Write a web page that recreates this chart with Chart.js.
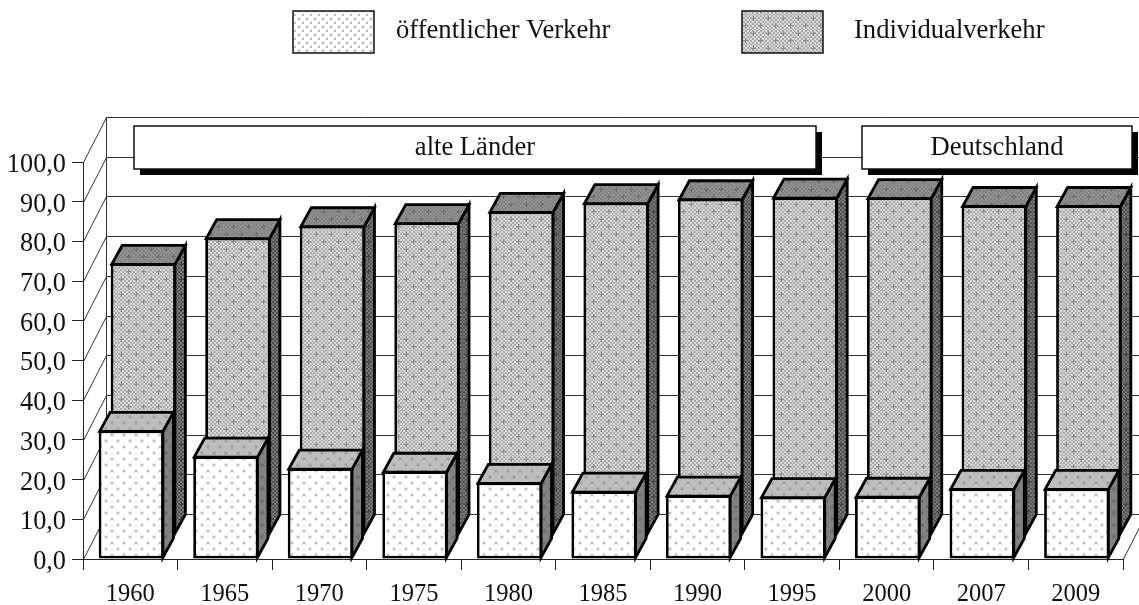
<!DOCTYPE html>
<html>
<head>
<meta charset="utf-8">
<title>Modal Split</title>
<script src="https://cdn.jsdelivr.net/npm/chart.js@4"></script>
<style>
    html, body { margin: 0; padding: 0; background: #fff; }
    canvas { display: block; }
</style>
</head>
<body>
<canvas id="chart" width="1139" height="605"></canvas>
<script>
// Daten
const years = ['1960', '1965', '1970', '1975', '1980', '1985', '1990', '1995', '2000', '2007', '2009'];
const publicTransport = [32.4, 25.9, 22.9, 22.1, 19.3, 17.1, 16.1, 15.7, 15.8, 17.8, 17.8];
const privateTransport = [68.4, 74.9, 77.9, 78.7, 81.5, 83.7, 84.7, 85.1, 85.0, 83.0, 83.0];
const yTickLabels = ['0,0', '10,0', '20,0', '30,0', '40,0', '50,0', '60,0', '70,0', '80,0', '90,0', '100,0'];
const legendLabels = ['öffentlicher Verkehr', 'Individualverkehr'];

const FONT = '"Liberation Serif", "Times New Roman", serif';

// Muster: Grundfläche + versetzte Punkte
function dotPattern(base, dot, halo, size) {
    const c = document.createElement('canvas');
    c.width = c.height = size;
    const g = c.getContext('2d');
    g.fillStyle = base;
    g.fillRect(0, 0, size, size);
    [[2, 2], [2 + size / 2, 2 + size / 2]].forEach(([x, y]) => {
        g.fillStyle = halo;
        g.fillRect(x - 1, y - 1, 4, 4);
        g.fillStyle = dot;
        g.fillRect(x, y, 2, 2);
    });
    return g.createPattern(c, 'repeat');
}

// Muster: feines Schachbrett + versetzte Kreuze
function plusPattern(light, dark, plus) {
    const c = document.createElement('canvas');
    c.width = c.height = 15;
    const g = c.getContext('2d');
    for (let y = 0; y < 15; y++) {
        for (let x = 0; x < 15; x++) {
            g.fillStyle = (Math.floor(x / 2) + Math.floor(y / 2)) % 2 ? dark : light;
            g.fillRect(x, y, 1, 1);
        }
    }
    g.fillStyle = plus;
    [[3, 3], [10, 10]].forEach(([x, y]) => {
        g.fillRect(x - 2, y, 5, 1);
        g.fillRect(x, y - 2, 1, 5);
    });
    return g.createPattern(c, 'repeat');
}

const frontFace = dotPattern('#ffffff', '#bcbcbc', '#ececec', 12);
const frontTop = dotPattern('#bdbdbd', '#9e9e9e', '#b2b2b2', 12);
const frontSide = dotPattern('#828282', '#6c6c6c', '#787878', 12);
const legendFront = dotPattern('#ffffff', '#c0c0c0', '#ededed', 8);
const backFace = plusPattern('#d8d8d8', '#acacac', '#8e8e8e');
const backTop = plusPattern('#909090', '#828282', '#6e6e6e');
const backSide = plusPattern('#7a7a7a', '#505050', '#444444');

// Räumliche Versätze (Rückwand, Reihen, Balkentiefe)
const WALL = { dx: 23, dy: 45 };
const ROWS = [
    { dx: 1, dy: 0, top: frontTop, side: frontSide },
    { dx: 13, dy: 24, top: backTop, side: backSide }
];
const BAR_DEPTH = { dx: 10.5, dy: 19 };
const BORDER = 2.8;

function poly(ctx, pts, fill) {
    ctx.beginPath();
    pts.forEach(([x, y], i) => (i ? ctx.lineTo(x, y) : ctx.moveTo(x, y)));
    ctx.closePath();
    ctx.fillStyle = fill;
    ctx.fill();
    ctx.stroke();
}

// Rückwand und Bodenlinien
const wallPlugin = {
    id: 'wall',
    beforeDatasetsDraw(chart) {
        const { ctx, scales: { x, y }, chartArea, width } = chart;
        ctx.save();
        ctx.strokeStyle = '#333';
        ctx.lineWidth = 1;
        y.ticks.forEach(t => {
            const py = Math.round(y.getPixelForValue(t.value)) + 0.5;
            ctx.beginPath();
            ctx.moveTo(chartArea.left + 0.5, py);
            ctx.lineTo(chartArea.left + WALL.dx + 0.5, py - WALL.dy);
            ctx.lineTo(width, py - WALL.dy);
            ctx.stroke();
        });
        ctx.beginPath();
        ctx.moveTo(chartArea.left + WALL.dx + 0.5, y.getPixelForValue(0) - WALL.dy);
        ctx.lineTo(chartArea.left + WALL.dx + 0.5, y.getPixelForValue(100) - WALL.dy);
        ctx.moveTo(chartArea.right + 0.5, y.getPixelForValue(0));
        ctx.lineTo(chartArea.right + WALL.dx + 0.5, y.getPixelForValue(0) - WALL.dy);
        ctx.stroke();
        ctx.restore();
    }
};

// Balken räumlich zeichnen: Reihe versetzen, Deckel und Seite ergänzen
const depthPlugin = {
    id: 'depth',
    beforeDatasetDraw(chart, args) {
        const { ctx } = chart;
        const row = ROWS[args.index];
        ctx.save();
        ctx.translate(row.dx, -row.dy);
        ctx.strokeStyle = '#000';
        ctx.lineWidth = BORDER;
        ctx.lineJoin = 'miter';
        args.meta.data.forEach(bar => {
            const l = bar.x - bar.width / 2 + 1;
            const r = bar.x + bar.width / 2 - 1;
            const t = bar.y + 1;
            const b = bar.base - 1;
            poly(ctx, [[r, t], [r + BAR_DEPTH.dx, t - BAR_DEPTH.dy], [r + BAR_DEPTH.dx, b - BAR_DEPTH.dy], [r, b]], row.side);
            poly(ctx, [[l, t], [r, t], [r + BAR_DEPTH.dx, t - BAR_DEPTH.dy], [l + BAR_DEPTH.dx, t - BAR_DEPTH.dy]], row.top);
        });
    },
    afterDatasetDraw(chart) {
        chart.ctx.restore();
    }
};

// Beschriftungsfelder und Legende
const notes = [
    { text: 'alte Länder', left: 134, right: 816 },
    { text: 'Deutschland', left: 862, right: 1132 }
];
const legendSpots = [
    { box: 293, text: 396, fill: legendFront },
    { box: 742, text: 854, fill: backFace }
];

const labelsPlugin = {
    id: 'labels',
    afterDraw(chart) {
        const { ctx } = chart;
        ctx.save();
        ctx.font = '26.6px ' + FONT;
        ctx.textBaseline = 'middle';
        notes.forEach(n => {
            ctx.fillStyle = '#000';
            ctx.fillRect(n.left + 6, 132, n.right - n.left, 43);
            ctx.fillStyle = '#fff';
            ctx.strokeStyle = '#111';
            ctx.lineWidth = 1.5;
            ctx.fillRect(n.left, 126, n.right - n.left, 43);
            ctx.strokeRect(n.left, 126, n.right - n.left, 43);
            ctx.fillStyle = '#111';
            ctx.textAlign = 'center';
            ctx.fillText(n.text, (n.left + n.right) / 2, 148);
        });
        ctx.textAlign = 'left';
        chart.data.datasets.forEach((ds, i) => {
            const s = legendSpots[i];
            ctx.fillStyle = s.fill;
            ctx.strokeStyle = '#111';
            ctx.lineWidth = 1.5;
            ctx.fillRect(s.box, 11, 81, 42);
            ctx.strokeRect(s.box, 11, 81, 42);
            ctx.fillStyle = '#111';
            ctx.fillText(ds.label, s.text, 31);
        });
        ctx.restore();
    }
};

new Chart(document.getElementById('chart'), {
    type: 'bar',
    data: {
        labels: years,
        datasets: [
            {
                label: legendLabels[0],
                data: publicTransport,
                backgroundColor: frontFace,
                borderColor: '#000',
                borderWidth: BORDER,
                borderSkipped: false
            },
            {
                label: legendLabels[1],
                data: privateTransport,
                backgroundColor: backFace,
                borderColor: '#000',
                borderWidth: BORDER,
                borderSkipped: false
            }
        ]
    },
    options: {
        responsive: false,
        animation: false,
        layout: { padding: { top: 162, right: 16, left: 0, bottom: 0 } },
        datasets: { bar: { grouped: false, categoryPercentage: 1, barPercentage: 0.69 } },
        plugins: {
            legend: { display: false },
            tooltip: { enabled: false }
        },
        scales: {
            x: {
                afterFit(scale) { scale.height = 46; },
                border: { color: '#222', width: 1 },
                grid: { drawOnChartArea: false, tickLength: 11, color: '#222' },
                ticks: { color: '#111', maxRotation: 0, padding: 10, font: { family: FONT, size: 24.5 } }
            },
            y: {
                min: 0,
                max: 100,
                afterFit(scale) { scale.width = 83; },
                border: { color: '#222', width: 1 },
                grid: { drawOnChartArea: false, tickLength: 11, color: '#222' },
                ticks: {
                    stepSize: 10,
                    color: '#111',
                    padding: 6,
                    labelOffset: 3,
                    font: { family: FONT, size: 26.3 },
                    callback: (v, i) => yTickLabels[i]
                }
            }
        }
    },
    plugins: [wallPlugin, depthPlugin, labelsPlugin]
});
</script>
</body>
</html>
